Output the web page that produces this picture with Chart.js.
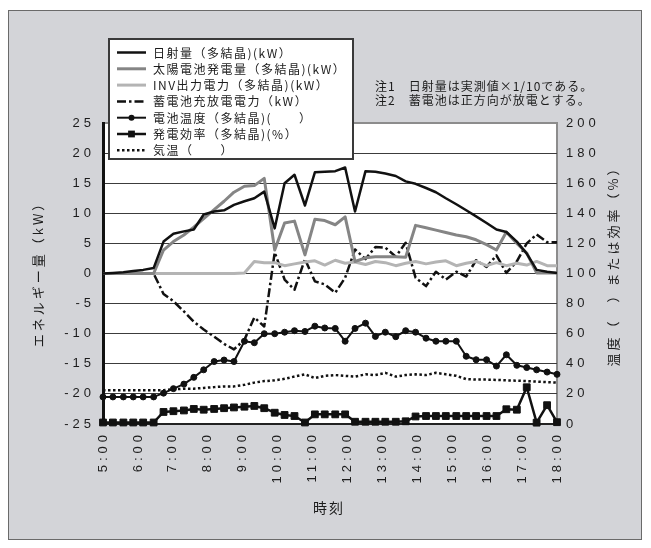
<!DOCTYPE html>
<html>
<head>
<meta charset="utf-8">
<script src="https://cdn.jsdelivr.net/npm/chart.js@4/dist/chart.umd.min.js"></script>
<style>
  html, body { margin: 0; padding: 0; background: #ffffff; }
  #frame { position: absolute; left: 8px; top: 10px; width: 632px; height: 528px;
           background: #d3d4d8; border: 1px solid #6a6a6a; }
  #wrap { position: absolute; left: 0; top: 0; width: 651px; height: 548px; }
</style>
</head>
<body>
<div id="frame"></div>
<div id="wrap"><canvas id="c" width="651" height="548"></canvas></div>
<script>
// Sample times (hh:mm) shared by every series
const times = ['5:00','5:17','5:35','5:52','6:09','6:27','6:44','7:01','7:19','7:36',
  '7:53','8:11','8:28','8:45','9:03','9:20','9:37','9:55','10:12','10:29',
  '10:47','11:04','11:21','11:39','11:56','12:13','12:31','12:48','13:05','13:23',
  '13:40','13:57','14:15','14:32','14:49','15:07','15:24','15:41','15:59','16:16',
  '16:33','16:51','17:08','17:25','17:43','18:00'];

// Energy series (kW, left axis)
const irradiance = [0,0.1,0.2,0.4,0.6,0.9, 5.3,6.6,7.0,7.3, 9.8,10.3,10.5,11.4, 12.0,12.5,13.6,7.5,
  15.0,16.4,11.3,16.8, 16.9,17.0,17.6,10.3, 17.0,16.9,16.6,16.2, 15.3,14.9,14.2,13.5,
  12.5,11.5,10.5,9.5, 8.4,7.3,6.9,5.3, 3.3,0.6,0.3,0.1];
const pvOutput = [0,0,0,0,0,0, 3.9,5.3,6.4,7.7, 9.1,10.6,12.0,13.5, 14.5,14.6,15.8,3.9,
  8.4,8.7,3.1,9.0, 8.8,8.1,9.4,2.0, 2.6,2.8,2.8,2.8, 2.7,8.0,7.6,7.2,
  6.8,6.4,6.1,5.6, 4.8,3.9,6.9,5.0, 3.4,0.1,0.1,0.1];
const invOutput = [0,0,0,0,0,0, 0,0,0,0, 0,0,0,0, 0.1,2.0,1.8,1.8,
  1.3,1.6,1.9,2.1, 1.4,2.2,1.7,1.9, 1.5,2.0,1.8,1.3, 1.7,2.0,1.6,1.9,
  2.1,1.3,1.7,2.0, 1.3,1.8,1.3,1.7, 1.4,2.0,1.3,1.3];
const battery = [0,0,0,0,0,0, -3.4,-4.6,-6.3,-8.0, -9.3,-10.5,-11.7,-12.6, -11.0,-7.3,-8.8,3.5,
  -1.0,-2.7,2.4,-1.3, -1.8,-3.2,-0.7,4.0, 2.4,4.4,4.3,2.8, 5.1,-0.7,-2.1,0.3,
  -1.0,0.3,-0.5,2.2, 1.1,3.0,0.1,2.0, 5.0,6.5,5.2,5.2];

// Temperature / efficiency series (right axis)
const cellTemp = [18,18,18,18,18,18, 20.5,23.5,26.5,31, 36,41.5,42.5,41.5, 55,54,60,60,
  61,62,61.5,65, 63.8,63.5,55,63.5, 67,58.2,61,58, 62,61,57,55,
  55,55,45,42.7, 42.7,38.5,46,39, 37.5,36,34.5,33];
const efficiency = [1,1,1,1,1,1, 8,8.5,9,10, 9.5,10,10.5,11, 11.5,12,10.5,7.5,
  6,5.3,1,6.4, 6.4,6.4,6.4,1.5, 1.5,1.5,1.5,1.5, 1.8,5,5.3,5.3,
  5.3,5.3,5.3,5.3, 5.3,5.3,9.8,9.5, 24.4,0.9,12.5,1.2];
const airTemp = [22.5,22.5,22.5,22.5,22.5,22.5, 22.5,23,23.5,23.5, 24,24.5,25,25, 26,27.5,28.5,29,
  30,31.5,33,30.5, 32,32.5,32,31.5, 33,32.5,34,31.5, 32.5,33,32.5,34,
  33,32,29.8,29.5, 29.5,29.3,29,28.8, 28.5,28.2,27.8,27.5];

// Series names
const seriesLabels = [
  '日射量（多結晶)(kW）',
  '太陽電池発電量（多結晶)(kW）',
  'INV出力電力（多結晶)(kW）',
  '蓄電池充放電電力（kW）',
  '電池温度（多結晶)(　　）',
  '発電効率（多結晶)(%）',
  '気温（　　）'
];

const notes = ['注1　日射量は実測値×1/10である。', '注2　蓄電池は正方向が放電とする。'];
const axisTitles = { left: 'エネルギー量（kW）', right: '温度（　）または効率（%）', bottom: '時刻' };

const toMin = s => { const p = s.split(':').map(Number); return p[0] * 60 + p[1]; };
const pts = vals => vals.map((v, i) => ({ x: toMin(times[i]), y: v }));

const NUM_FONT = '"Liberation Sans", Arial, sans-serif';
const JP_FONT = '"Noto Sans CJK JP", "Noto Sans", sans-serif';
const TXT = '#1c1c1c';

const datasets = [
  { label: seriesLabels[0], data: pts(irradiance), yAxisID: 'yL', borderColor: '#111111', borderWidth: 2.5, pointRadius: 0 },
  { label: seriesLabels[1], data: pts(pvOutput), yAxisID: 'yL', borderColor: '#858585', borderWidth: 3, pointRadius: 0 },
  { label: seriesLabels[2], data: pts(invOutput), yAxisID: 'yL', borderColor: '#b4b4b4', borderWidth: 3, pointRadius: 0 },
  { label: seriesLabels[3], data: pts(battery), yAxisID: 'yL', borderColor: '#111111', borderWidth: 2.5, borderDash: [9, 3, 2.5, 3], pointRadius: 0 },
  { label: seriesLabels[4], data: pts(cellTemp), yAxisID: 'yR', borderColor: '#111111', borderWidth: 2, pointStyle: 'circle', pointRadius: 3, pointBackgroundColor: '#111111', pointBorderColor: '#111111', pointBorderWidth: 1, clip: 6 },
  { label: seriesLabels[5], data: pts(efficiency), yAxisID: 'yR', borderColor: '#111111', borderWidth: 2.5, pointStyle: 'rect', pointRadius: 4.8, pointBackgroundColor: '#111111', pointBorderColor: '#111111', pointBorderWidth: 1, clip: 6 },
  { label: seriesLabels[6], data: pts(airTemp), yAxisID: 'yR', borderColor: '#111111', borderWidth: 2.5, borderDash: [2.5, 2.5], borderCapStyle: 'butt', pointRadius: 0 }
];

// Plot background, frame, legend box, notes and axis titles
const decor = {
  id: 'decor',
  beforeDraw(chart) {
    const { ctx, chartArea: a } = chart;
    ctx.save();
    ctx.fillStyle = '#ffffff';
    ctx.fillRect(a.left, a.top, a.right - a.left, a.bottom - a.top);
    ctx.strokeStyle = '#8c8c8c';
    ctx.lineWidth = 2;
    ctx.strokeRect(a.left, a.top, a.right - a.left, a.bottom - a.top);
    ctx.restore();
    ctx.letterSpacing = '4px';
  },
  afterDraw(chart) {
    const ctx = chart.ctx;
    ctx.save();
    ctx.letterSpacing = '0px';

    // legend box
    const lx = 109, ly = 39, lw = 244, lh = 120;
    ctx.fillStyle = '#ffffff';
    ctx.fillRect(lx, ly, lw, lh);
    ctx.strokeStyle = '#3a3a3a';
    ctx.lineWidth = 2;
    ctx.strokeRect(lx, ly, lw, lh);

    chart.data.datasets.forEach((ds, i) => {
      const y = 52.5 + i * 16.3;
      ctx.save();
      ctx.strokeStyle = ds.borderColor;
      ctx.lineWidth = ds.borderWidth;
      ctx.lineCap = 'butt';
      ctx.setLineDash(ds.borderDash || []);
      ctx.beginPath();
      ctx.moveTo(117, y);
      ctx.lineTo(146, y);
      ctx.stroke();
      ctx.setLineDash([]);
      if (ds.pointRadius > 0) {
        ctx.fillStyle = ds.pointBackgroundColor;
        ctx.beginPath();
        if (ds.pointStyle === 'rect') {
          const h = ds.pointRadius * Math.SQRT1_2;
          ctx.rect(131.5 - h, y - h, 2 * h, 2 * h);
        } else {
          ctx.arc(131.5, y, ds.pointRadius, 0, Math.PI * 2);
        }
        ctx.fill();
      }
      ctx.restore();
      ctx.fillStyle = TXT;
      ctx.font = '12px ' + JP_FONT;
      ctx.letterSpacing = '1.5px';
      ctx.textAlign = 'left';
      ctx.textBaseline = 'middle';
      ctx.fillText(ds.label, 153, y + 0.5);
    });

    // notes
    ctx.font = '12px ' + JP_FONT;
    ctx.letterSpacing = '1px';
    ctx.fillStyle = TXT;
    ctx.textAlign = 'left';
    ctx.textBaseline = 'middle';
    ctx.fillText(notes[0], 375, 86);
    ctx.fillText(notes[1], 375, 100);

    // axis titles
    ctx.font = '13px ' + JP_FONT;
    ctx.letterSpacing = '3px';
    ctx.textAlign = 'center';
    ctx.save();
    ctx.translate(38, 271);
    ctx.rotate(-Math.PI / 2);
    ctx.fillText(axisTitles.left, 0, 0);
    ctx.restore();
    ctx.save();
    ctx.translate(613, 263);
    ctx.rotate(-Math.PI / 2);
    ctx.fillText(axisTitles.right, 0, 0);
    ctx.restore();
    ctx.font = '14px ' + JP_FONT;
    ctx.letterSpacing = '2px';
    ctx.fillText(axisTitles.bottom, 329, 508);
    ctx.restore();
  }
};

const tickFont = { family: NUM_FONT, size: 13 };

new Chart(document.getElementById('c'), {
  type: 'line',
  data: { datasets },
  options: {
    responsive: false,
    animation: false,
    layout: { padding: { top: 123, left: 0, right: 0, bottom: 0 } },
    elements: { line: { tension: 0, borderJoinStyle: 'round' } },
    plugins: { legend: { display: false }, tooltip: { enabled: false } },
    scales: {
      x: {
        type: 'linear', min: 300, max: 1080,
        grid: { display: false, drawTicks: false },
        border: { display: true, color: '#222222', width: 2 },
        ticks: {
          stepSize: 60, autoSkip: false, minRotation: 90, maxRotation: 90, padding: 7,
          color: TXT, font: tickFont,
          callback: v => Math.round(v / 60) + ':00'
        },
        afterFit: s => { s.height = 124; }
      },
      yL: {
        position: 'left', min: -25, max: 25,
        grid: { drawTicks: false, lineWidth: 1,
          color: c => (c.tick && c.tick.value === 25) ? 'rgba(0,0,0,0)' : '#3c3c3c' },
        border: { display: true, color: '#111111', width: 3 },
        ticks: { stepSize: 5, padding: 8, color: TXT, font: tickFont },
        afterFit: s => { s.width = 103; }
      },
      yR: {
        position: 'right', min: 0, max: 200,
        grid: { display: false, drawTicks: false },
        border: { display: false },
        ticks: { stepSize: 20, padding: 9, color: TXT, font: tickFont },
        afterFit: s => { s.width = 94; }
      }
    }
  },
  plugins: [decor]
});
</script>
</body>
</html>
